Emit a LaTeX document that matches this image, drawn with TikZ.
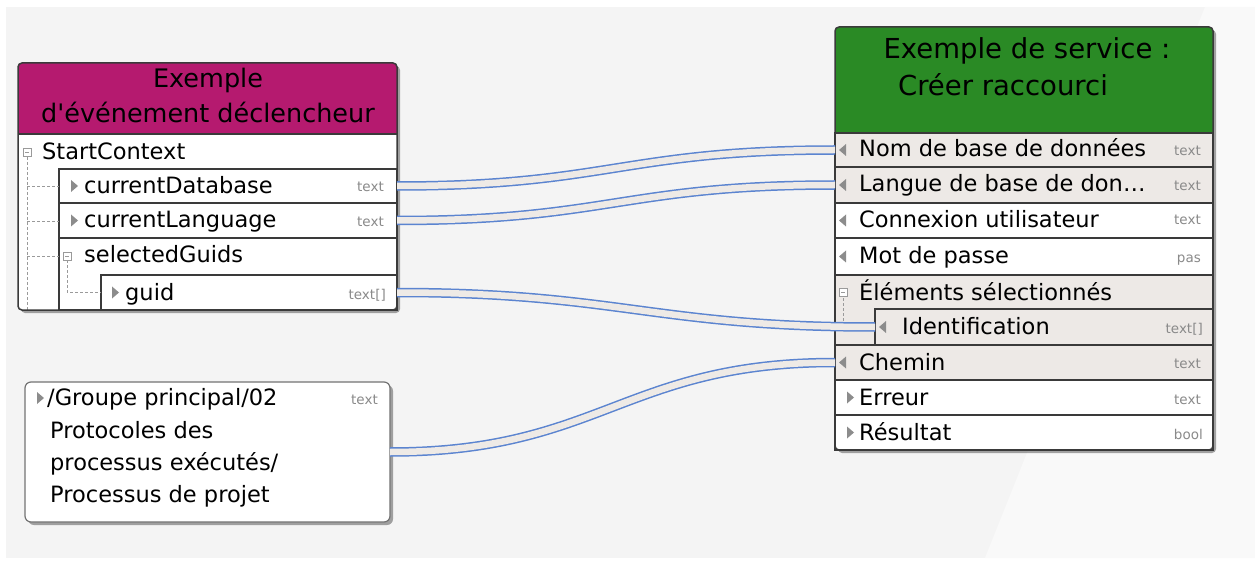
\documentclass[tikz,border=0pt]{standalone}
\usepackage{fontspec}
\setmainfont{DejaVu Sans}
\usetikzlibrary{shadows}
\definecolor{bggray}{HTML}{F4F4F4}
\definecolor{bglight}{HTML}{F9F9F9}
\definecolor{lhcol}{HTML}{B51A6F}
\definecolor{rhcol}{HTML}{2A8A25}
\definecolor{rowgray}{HTML}{EDE9E6}
\definecolor{edgecol}{HTML}{3A3A3A}
\definecolor{typgray}{HTML}{8A8A8A}
\definecolor{tricol}{HTML}{8C8C8C}
\definecolor{connblue}{HTML}{5B84D0}
\definecolor{connfill}{HTML}{EEEAE6}
\definecolor{treecol}{HTML}{9A9A9A}
\newcommand\rowfont{\fontsize{22.5}{26}\selectfont}
\newcommand\typfont{\fontsize{13.5}{15}\selectfont}
\newcommand\rtri[2]{\fill[tricol] (#1,#2-6) -- (#1+7,#2) -- (#1,#2+6) -- cycle;}
\newcommand\ltri[2]{\fill[tricol] (#1+7,#2-6) -- (#1,#2) -- (#1+7,#2+6) -- cycle;}
\newcommand\minusbox[2]{\draw[treecol, fill=white, line width=0.8pt] (#1-4,#2-4) rectangle (#1+4,#2+4); \draw[treecol, line width=0.8pt] (#1-2,#2) -- (#1+2,#2);}
\begin{document}
\begin{tikzpicture}[x=1pt, y=-1pt,
  cell/.style={draw=edgecol, line width=1.2pt, anchor=north west, inner sep=0pt, outer sep=0pt},
  frameshape/.style={anchor=north west, inner sep=0pt, outer sep=0pt, rounded corners=4pt, fill=white,
     drop shadow={shadow xshift=3pt, shadow yshift=-3pt, opacity=0.5, fill=black!70}},
  rowtxt/.style={anchor=base west, inner sep=0pt, font=\rowfont},
  typ/.style={anchor=base east, inner sep=0pt, font=\typfont, text=typgray},
  hdtxt/.style={anchor=base, inner sep=0pt},
  conn/.style={draw=connblue, line width=1.5pt, double=connfill, double distance=6.5pt},
  tree/.style={treecol, densely dashed, line width=0.8pt}]
\useasboundingbox (0,0) rectangle (1255,561);
% background
\fill[white] (0,0) rectangle (1255,561);
\fill[bggray] (6,7) rectangle (1255,558);
\fill[bglight] (1205,7) -- (1255,7) -- (1255,558) -- (985,558) -- cycle;

% ===== left box =====
\node[frameshape, minimum width=379pt, minimum height=247pt] (lbox) at (18,63) {};
\fill[lhcol, rounded corners=4pt] (18,63) rectangle (397,134);
\fill[lhcol] (18,120) rectangle (397,134);
\node[hdtxt, font=\fontsize{25.5}{30}\selectfont] (lh1) at (208,88) {Exemple};
\node[hdtxt, font=\fontsize{25.5}{30}\selectfont] (lh2) at (208,123) {d\textquotesingle événement déclencheur};
\draw[edgecol, line width=1.2pt] (18,134) -- (397,134);
\node[cell, fill=white, minimum width=338pt, minimum height=34pt] (cdb) at (59,169) {};
\node[cell, fill=white, minimum width=338pt, minimum height=35pt] (clang) at (59,203) {};
\node[cell, fill=white, minimum width=338pt, minimum height=72pt] (sguids) at (59,238) {};
\node[cell, fill=white, minimum width=296pt, minimum height=35pt] (guid) at (101,275) {};
% tree lines
\draw[tree] (27,157) -- (27,310);
\draw[tree] (27,186) -- (59,186);
\draw[tree] (27,221) -- (59,221);
\draw[tree] (27,256) -- (59,256);
\draw[tree] (67,260) -- (67,292) -- (101,292);
\minusbox{27}{152}
\minusbox{67}{256}
% texts
\node[rowtxt] (t-start) at (42,160) {StartContext};
\rtri{71}{186}
\node[rowtxt] (t-cdb) at (84,193.5) {currentDatabase};
\node[typ] (y-cdb) at (384,192) {text};
\rtri{71}{220.5}
\node[rowtxt] (t-clang) at (84,228) {currentLanguage};
\node[typ] (y-clang) at (384,227) {text};
\node[rowtxt] (t-sg) at (84,263) {selectedGuids};
\rtri{112}{292.5}
\node[rowtxt] (t-guid) at (125,300) {guid};
\node[typ] (y-guid) at (386,299) {text[]};
\draw[edgecol, line width=1.5pt, rounded corners=4pt] (lbox.north west) rectangle (lbox.south east);

% ===== bottom-left box =====
\node[frameshape, rounded corners=6pt, minimum width=365pt, minimum height=140pt] (gbox) at (25,382) {};
\draw[black!55, line width=1.2pt, rounded corners=6pt] (gbox.north west) rectangle (gbox.south east);
\rtri{37}{398}
\node[rowtxt] (g1) at (47,405) {/Groupe principal/02};
\node[rowtxt] (g2) at (50,438) {Protocoles des};
\node[rowtxt] (g3) at (50,470) {processus exécutés/};
\node[rowtxt] (g4) at (50,502) {Processus de projet};
\node[typ] (y-g) at (378,404) {text};

% ===== right box =====
\node[frameshape, minimum width=378pt, minimum height=423pt] (rbox) at (835,27) {};
\fill[rhcol, rounded corners=4pt] (835,27) rectangle (1213,133);
\fill[rhcol] (835,115) rectangle (1213,133);
\node[hdtxt, font=\fontsize{27.5}{32}\selectfont] (rh1) at (1027,59) {Exemple de service :};
\node[hdtxt, font=\fontsize{27.5}{32}\selectfont] (rh2) at (1003,96) {Créer raccourci};
\node[cell, fill=rowgray, minimum width=378pt, minimum height=34pt] (nom) at (835,133) {};
\node[cell, fill=rowgray, minimum width=378pt, minimum height=36pt] (langue) at (835,167) {};
\node[cell, fill=white, minimum width=378pt, minimum height=35pt] (conx) at (835,203) {};
\node[cell, fill=white, minimum width=378pt, minimum height=37pt] (mot) at (835,238) {};
\node[cell, fill=rowgray, minimum width=378pt, minimum height=70pt] (elem) at (835,275) {};
\node[cell, fill=rowgray, minimum width=338pt, minimum height=36pt] (ident) at (875,309) {};
\node[cell, fill=rowgray, minimum width=378pt, minimum height=35pt] (chemin) at (835,345) {};
\node[cell, fill=white, minimum width=378pt, minimum height=35pt] (erreur) at (835,380) {};
\node[cell, fill=white, minimum width=378pt, minimum height=35pt] (result) at (835,415) {};
\draw[tree] (843,298) -- (843,325);
\minusbox{843}{292}
\ltri{839}{150}
\node[rowtxt] (t-nom) at (859,157) {Nom de base de données};
\node[typ] (y-nom) at (1201,156) {text};
\ltri{839}{185}
\node[rowtxt] (t-lang) at (859,192) {Langue de base de don\ldots};
\node[typ] (y-lang) at (1201,191) {text};
\ltri{839}{220.5}
\node[rowtxt] (t-conx) at (859,228) {Connexion utilisateur};
\node[typ] (y-conx) at (1201,225) {text};
\ltri{839}{256.5}
\node[rowtxt] (t-mot) at (859,264) {Mot de passe};
\node[typ] (y-mot) at (1201,262) {pas};
\node[rowtxt] (t-elem) at (859,300) {Éléments sélectionnés};
\ltri{879}{327}
\node[rowtxt] (t-ident) at (902,334) {Identification};
\node[typ] (y-ident) at (1203,333) {text[]};
\ltri{839}{362.5}
\node[rowtxt] (t-chemin) at (859,370) {Chemin};
\node[typ] (y-chemin) at (1201,368) {text};
\rtri{847}{397.5}
\node[rowtxt] (t-err) at (859,405) {Erreur};
\node[typ] (y-err) at (1201,404) {text};
\rtri{847}{432.5}
\node[rowtxt] (t-res) at (859,440) {Résultat};
\node[typ] (y-res) at (1203,439) {bool};
\draw[edgecol, line width=1.5pt, rounded corners=4pt] (rbox.north west) rectangle (rbox.south east);

% ===== connectors =====
\draw[conn] (cdb.east) .. controls +(210,0) and +(-210,0) .. (nom.west);
\draw[conn] (clang.east) .. controls +(210,0) and +(-210,0) .. (langue.west);
\draw[conn] (guid.east) .. controls +(220,0) and +(-220,0) .. (ident.west);
\draw[conn] (gbox.east) .. controls +(210,0) and +(-210,0) .. (chemin.west);
\end{tikzpicture}
\end{document}
